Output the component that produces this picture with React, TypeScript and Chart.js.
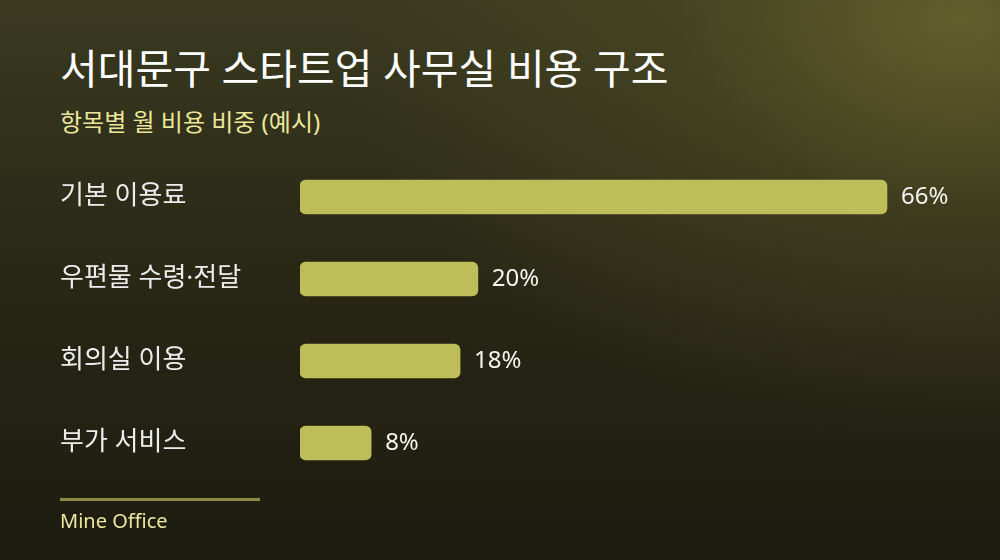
import React, { useRef, useEffect } from "react";
import Chart from "chart.js/auto";

const categories = ["기본 이용료", "우편물 수령·전달", "회의실 이용", "부가 서비스"];
const shares = [66, 20, 18, 8];
const axisMax = 75;

const FONT = "'Noto Sans', 'Noto Sans CJK KR', sans-serif";

const valueLabels = {
  id: "valueLabels",
  afterDatasetsDraw(chart: any) {
    const ctx = chart.ctx;
    const meta = chart.getDatasetMeta(0);
    ctx.save();
    ctx.font = `400 24px ${FONT}`;
    ctx.fillStyle = "#f4f4ee";
    ctx.textAlign = "left";
    ctx.textBaseline = "middle";
    meta.data.forEach((bar: any, i: number) => {
      ctx.fillText(`${shares[i]}%`, bar.x + 14, bar.y);
    });
    ctx.restore();
  },
};

const App = () => {
  const chartRef = useRef<HTMLCanvasElement>(null);
  const chartInstance = useRef<Chart | null>(null);

  useEffect(() => {
    document.body.style.margin = "0";
    if (chartRef.current) {
      chartInstance.current = new Chart(chartRef.current, {
        type: "bar",
        data: {
          labels: categories,
          datasets: [
            {
              data: shares,
              backgroundColor: "#bdbd5a",
              borderRadius: 6,
              borderSkipped: false,
              barThickness: 34,
            },
          ],
        },
        options: {
          indexAxis: "y",
          animation: false,
          responsive: false,
          maintainAspectRatio: false,
          layout: { padding: { left: 60, right: 33, top: 156, bottom: 76 } },
          plugins: {
            legend: { display: false },
            tooltip: { enabled: false },
          },
          scales: {
            x: { display: false, min: 0, max: axisMax },
            y: {
              grid: { display: false },
              border: { display: false },
              ticks: {
                crossAlign: "far",
                color: "#ececec",
                padding: 0,
                font: { family: FONT, size: 26 },
              },
              afterFit(scale: any) {
                scale.width = 240;
              },
            },
          },
        },
        plugins: [valueLabels],
      });
    }
    return () => {
      chartInstance.current?.destroy();
    };
  }, []);

  return (
    <div
      style={{
        position: "fixed",
        left: 0,
        top: 0,
        width: 1000,
        height: 560,
        overflow: "hidden",
        fontFamily: FONT,
        background:
          "radial-gradient(ellipse 620px 420px at 960px 20px, rgba(100,96,44,0.95) 0%, rgba(80,77,36,0.5) 45%, rgba(60,58,30,0) 100%), linear-gradient(180deg, #3a3920 0%, #2a2916 45%, #1c1b10 100%)",
      }}
    >
      <div
        style={{
          position: "absolute",
          left: 60,
          top: 41,
          color: "#ffffff",
          fontSize: 41,
          fontWeight: 400,
          lineHeight: "54px",
          whiteSpace: "nowrap",
        }}
      >
        서대문구 스타트업 사무실 비용 구조
      </div>
      <div
        style={{
          position: "absolute",
          left: 60,
          top: 105,
          color: "#ece69c",
          fontSize: 24,
          lineHeight: "34px",
          whiteSpace: "nowrap",
        }}
      >
        항목별 월 비용 비중 (예시)
      </div>
      <canvas
        ref={chartRef}
        width={1000}
        height={560}
        style={{ position: "absolute", left: 0, top: 0, width: 1000, height: 560 }}
      />
      <div
        style={{
          position: "absolute",
          left: 60,
          top: 498,
          width: 200,
          height: 3,
          background: "#8e8a45",
        }}
      />
      <div
        style={{
          position: "absolute",
          left: 60,
          top: 507,
          color: "#ece69c",
          fontSize: 20,
          lineHeight: "28px",
          whiteSpace: "nowrap",
        }}
      >
        Mine Office
      </div>
    </div>
  );
};

export default App;
